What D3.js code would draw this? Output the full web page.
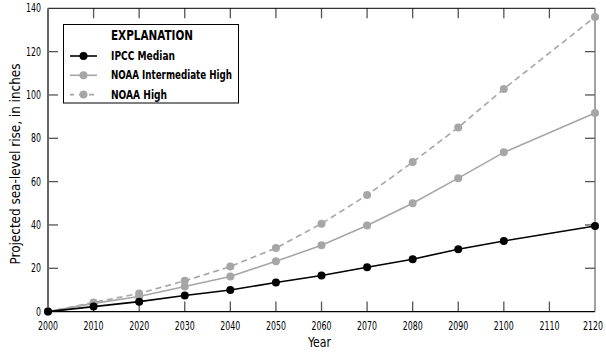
<!DOCTYPE html>
<html>
<head>
<meta charset="utf-8">
<script src="https://cdn.jsdelivr.net/npm/d3@7"></script>
<style>
  body { margin: 0; background: #fff; }
  text { font-family: "Liberation Sans Narrow", "DejaVu Sans", sans-serif; font-stretch: condensed; }
</style>
</head>
<body>
<script>
var w = 606;
var h = 352;

// Data
var years = [2000, 2010, 2020, 2030, 2040, 2050, 2060, 2070, 2080, 2090, 2100, 2120];
var ipccMedian = [0, 2.3, 4.6, 7.4, 10.0, 13.4, 16.7, 20.5, 24.2, 28.8, 32.6, 39.5];
var noaaIntHigh = [0, 3.8, 7.0, 11.6, 16.2, 23.2, 30.6, 39.7, 50.0, 61.6, 73.5, 91.7];
var noaaHigh = [0, 4.2, 8.4, 14.2, 20.8, 29.3, 40.6, 53.8, 69.0, 85.0, 102.8, 136.0];
var xTicks = [2000, 2010, 2020, 2030, 2040, 2050, 2060, 2070, 2080, 2090, 2100, 2110, 2120];
var yTicks = [0, 20, 40, 60, 80, 100, 120, 140];

var series = [
  { name: "IPCC Median", values: ipccMedian, color: "#000000", dash: null },
  { name: "NOAA Intermediate High", values: noaaIntHigh, color: "#a6a6a6", dash: null },
  { name: "NOAA High", values: noaaHigh, color: "#a6a6a6", dash: "6,4" }
];

var pLeft = 48, pRight = 595, pTop = 8.3, pBottom = 311.6;

var x = d3.scaleLinear().domain([2000, 2120]).range([pLeft, pRight]);
var y = d3.scaleLinear().domain([0, 140]).range([pBottom, pTop]);

var svg = d3.select("body")
  .append("svg")
  .attr("width", w)
  .attr("height", h);

// squeeze text to a width so it looks like the narrow face of the original
function fitWidth(sel, wd) {
  sel.attr("textLength", wd).attr("lengthAdjust", "spacingAndGlyphs");
}
function digitWidth(sel, per) {
  sel.attr("textLength", function(d) { return String(d).length * per; })
    .attr("lengthAdjust", "spacingAndGlyphs");
}

// Ticks (inward on all four sides)
var tickLen = 10;
var ticks = svg.append("g").attr("stroke", "#555").attr("stroke-width", 1.3);
xTicks.forEach(function(t) {
  if (t === 2000 || t === 2120) return;
  ticks.append("line").attr("x1", x(t)).attr("x2", x(t)).attr("y1", pBottom).attr("y2", pBottom - tickLen);
  ticks.append("line").attr("x1", x(t)).attr("x2", x(t)).attr("y1", pTop).attr("y2", pTop + tickLen);
});
yTicks.forEach(function(t) {
  if (t === 0 || t === 140) return;
  ticks.append("line").attr("x1", pLeft).attr("x2", pLeft + tickLen).attr("y1", y(t)).attr("y2", y(t));
  ticks.append("line").attr("x1", pRight).attr("x2", pRight - tickLen).attr("y1", y(t)).attr("y2", y(t));
});

// Frame
svg.append("line").attr("x1", pLeft).attr("x2", pRight).attr("y1", pTop).attr("y2", pTop)
  .attr("stroke", "#000").attr("stroke-width", 1);
svg.append("line").attr("x1", pLeft).attr("x2", pRight).attr("y1", pBottom).attr("y2", pBottom)
  .attr("stroke", "#000").attr("stroke-width", 1.3);
svg.append("line").attr("x1", pLeft).attr("x2", pLeft).attr("y1", pTop).attr("y2", pBottom)
  .attr("stroke", "#666").attr("stroke-width", 2);
svg.append("line").attr("x1", pRight).attr("x2", pRight).attr("y1", pTop).attr("y2", pBottom)
  .attr("stroke", "#666").attr("stroke-width", 1.2);

// Tick labels
svg.append("g").selectAll("text")
  .data(xTicks)
  .enter()
  .append("text")
  .attr("x", function(d) { return d === 2120 ? 603 : x(d); })
  .attr("y", pBottom + 18.5)
  .attr("text-anchor", function(d) { return d === 2120 ? "end" : "middle"; })
  .attr("font-size", 11.5)
  .text(function(d) { return d; })
  .call(digitWidth, 5);

svg.append("g").selectAll("text")
  .data(yTicks)
  .enter()
  .append("text")
  .attr("x", pLeft - 7)
  .attr("y", function(d) { return y(d) + 4; })
  .attr("text-anchor", "end")
  .attr("font-size", 11.5)
  .text(function(d) { return d; })
  .call(digitWidth, 5);

// Axis titles
svg.append("text")
  .attr("x", 308)
  .attr("y", 346.5)
  .attr("font-size", 13.5)
  .text("Year")
  .call(fitWidth, 23);

svg.append("text")
  .attr("transform", "translate(19.5,164) rotate(-90)")
  .attr("text-anchor", "middle")
  .attr("font-size", 13.5)
  .text("Projected sea-level rise, in inches")
  .call(fitWidth, 201);

// Lines and points (draw high series first so black is on top)
var line = d3.line()
  .x(function(d, i) { return x(years[i]); })
  .y(function(d) { return y(d); });

series.slice().reverse().forEach(function(s) {
  svg.append("path")
    .datum(s.values)
    .attr("fill", "none")
    .attr("stroke", s.color)
    .attr("stroke-width", 1.6)
    .attr("stroke-dasharray", s.dash)
    .attr("d", line);
  svg.append("g").selectAll("circle")
    .data(s.values)
    .enter()
    .append("circle")
    .attr("cx", function(d, i) { return x(years[i]); })
    .attr("cy", function(d) { return y(d); })
    .attr("r", 4)
    .attr("fill", s.color);
});

// Legend
var legendWidths = [64, 121, 56];
var legend = svg.append("g");
legend.append("rect")
  .attr("x", 63.5).attr("y", 24.5)
  .attr("width", 175).attr("height", 78.5)
  .attr("fill", "#fff")
  .attr("stroke", "#000")
  .attr("stroke-width", 1);
legend.append("text")
  .attr("x", 111).attr("y", 40)
  .attr("font-size", 13.5)
  .attr("font-weight", "bold")
  .text("EXPLANATION")
  .call(fitWidth, 82);

series.forEach(function(s, i) {
  var ly = 56 + i * 19.3;
  legend.append("line")
    .attr("x1", 70).attr("x2", 97)
    .attr("y1", ly).attr("y2", ly)
    .attr("stroke", s.color)
    .attr("stroke-width", 1.6)
    .attr("stroke-dasharray", s.dash ? "5,5" : null)
    .attr("stroke-dashoffset", s.dash ? 1 : null);
  legend.append("circle")
    .attr("cx", 83.5).attr("cy", ly)
    .attr("r", 4)
    .attr("fill", s.color);
  legend.append("text")
    .attr("x", 111).attr("y", ly + 4)
    .attr("font-size", 11.5)
    .attr("font-weight", "bold")
    .text(s.name)
    .call(fitWidth, legendWidths[i]);
});
</script>
</body>
</html>
